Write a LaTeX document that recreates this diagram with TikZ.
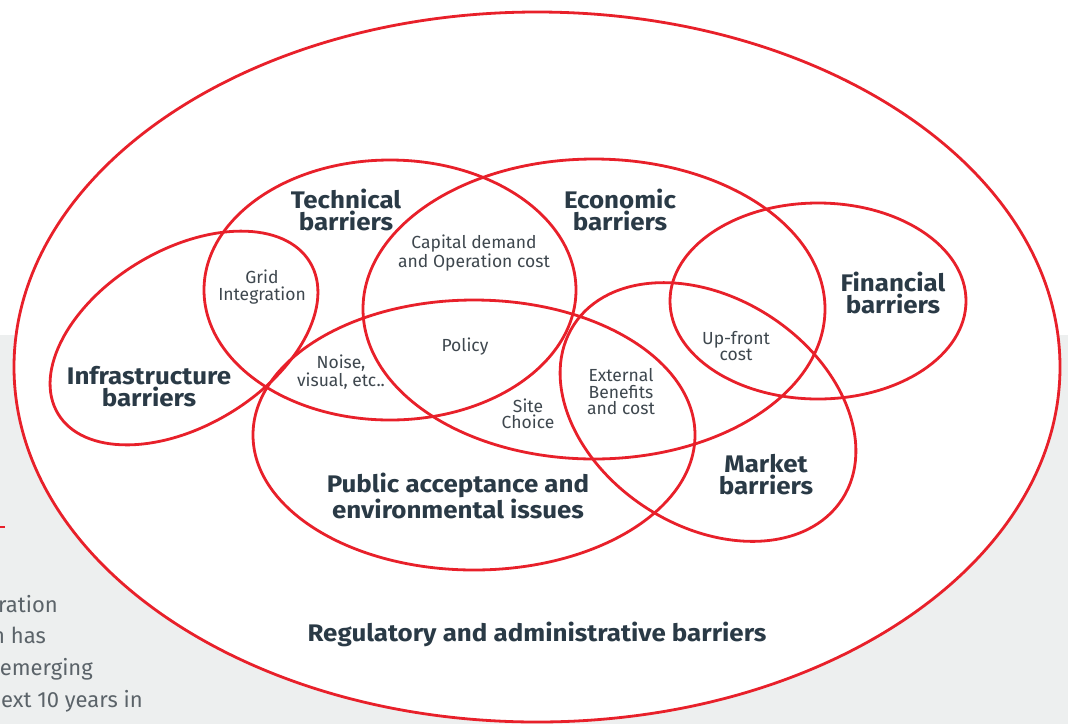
\documentclass[tikz,border=0pt]{standalone}
\usepackage{fontspec}
\setmainfont{Fira Sans}
\newfontfamily\widesans{Fira Sans}[FakeStretch=1.08]
\definecolor{barred}{HTML}{E8202A}
\definecolor{bggrey}{HTML}{EDEFEF}
\definecolor{headtext}{HTML}{2A3A46}
\definecolor{smalltext}{HTML}{3E474E}
\tikzset{
  barrier/.style={draw=barred, line width=2.8pt},
  heading/.style={align=center, text=headtext, inner sep=0pt, font=\widesans\fontsize{24}{22}\selectfont\bfseries},
  overlap/.style={align=center, text=smalltext, inner sep=0pt, font=\fontsize{17.5}{16.5}\selectfont},
  sidetext/.style={anchor=base east, text=smalltext!85, inner sep=0pt, font=\fontsize{22}{22}\selectfont}
}

\begin{document}
\begin{tikzpicture}[x=1pt,y=-1pt]
    \clip (0,0) rectangle (1068,724);
    % Background %
    \fill[bggrey] (0,335) rectangle (1068,724);
    \draw[barred, line width=2pt] (0,527) -- (5,527);
    \node[sidetext] (side1) at (58,612) {ration};
    \node[sidetext] (side2) at (46,643) {n has};
    \node[sidetext] (side3) at (93,675) {emerging};
    \node[sidetext] (side4) at (143,707) {ext 10 years in};

    % Ellipses %
    \draw[barrier, fill=white] (537,367) ellipse [x radius=523, y radius=355];
    \draw[barrier, rotate around={31:(184,338)}] (184,338) ellipse [x radius=147, y radius=88];
    \draw[barrier] (390,290) ellipse [x radius=186, y radius=130];
    \draw[barrier] (594,309) ellipse [x radius=231, y radius=150];
    \draw[barrier] (818,301) ellipse [x radius=148, y radius=98];
    \draw[barrier, rotate around={-33:(708,412)}] (708,412) ellipse [x radius=160, y radius=114];
    \draw[barrier] (474,435) ellipse [x radius=221, y radius=135];

    % Labels %
    \node[heading] (technical) at (346,210) {Technical\\barriers};
    \node[heading] (economic) at (620,210) {Economic\\barriers};
    \node[heading] (financial) at (893,293) {Financial\\barriers};
    \node[heading] (infra) at (149,387) {Infrastructure\\barriers};
    \node[heading] (market) at (766,475) {Market\\barriers};
    \node[heading] (public) at (458,496) {Public acceptance and\\environmental issues};
    \node[heading] (regulatory) at (537,634) {Regulatory and administrative barriers};

    \node[overlap] (grid) at (262,287) {Grid\\Integration};
    \node[overlap] (capital) at (474,253) {Capital demand\\and Operation cost};
    \node[overlap] (policy) at (465,347) {Policy};
    \node[overlap] (noise) at (341,372) {Noise,\\visual, etc..};
    \node[overlap] (site) at (528,414) {Site\\Choice};
    \node[overlap] (external) at (621,392) {External\\Benefits\\and cost};
    \node[overlap] (upfront) at (736,346) {Up-front\\cost};
\end{tikzpicture}
\end{document}
